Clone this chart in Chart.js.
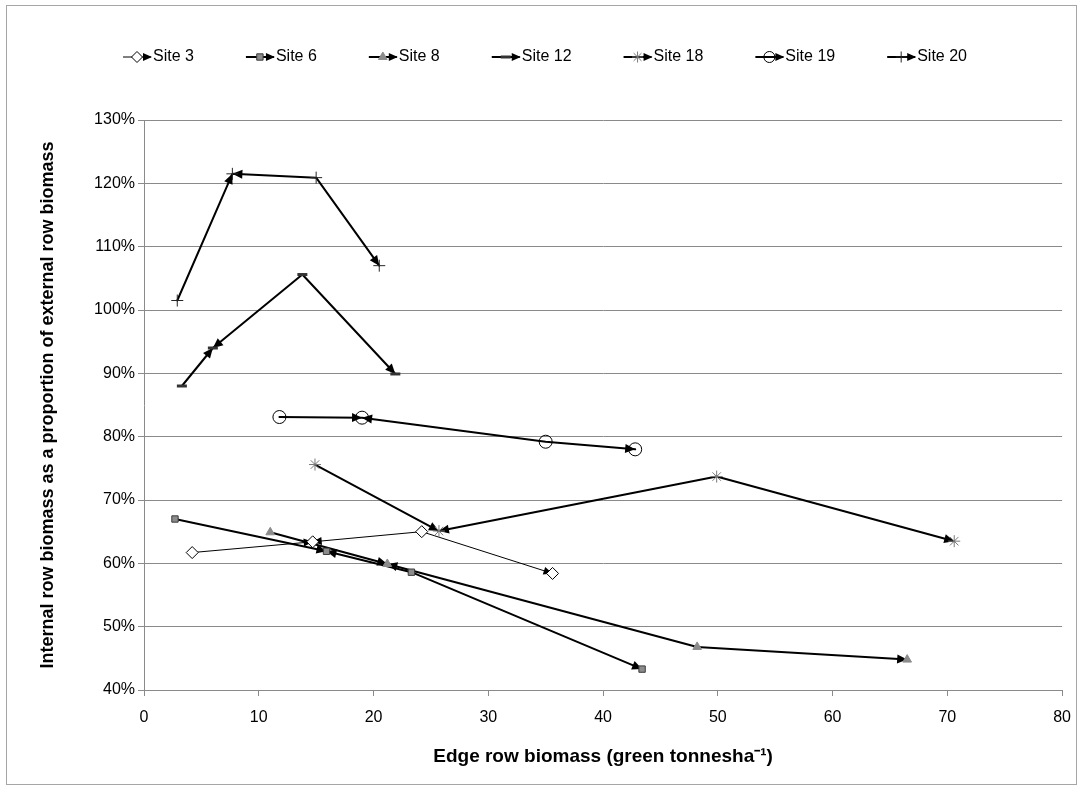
<!DOCTYPE html>
<html>
<head>
<meta charset="utf-8">
<script src="https://cdn.jsdelivr.net/npm/chart.js@4/dist/chart.umd.min.js"></script>
<style>
html, body { margin: 0; padding: 0; background: #fff; }
</style>
</head>
<body>
<canvas id="biomass_canvas" width="1083" height="791"></canvas>
<script>
// [edge row biomass, internal row biomass as % of external], in sampling order
const site3 = [[4.2, 61.7], [14.7, 63.4], [24.2, 65.0], [35.6, 58.4]];
const site6 = [[2.7, 67.0], [15.9, 61.9], [23.3, 58.6], [43.4, 43.3]];
const site8 = [[11.0, 64.9], [21.2, 59.9], [48.2, 46.8], [66.5, 44.8]];
const site12 = [[3.3, 88.0], [6.0, 94.0], [13.8, 105.6], [21.9, 89.9]];
const site18 = [[14.9, 75.6], [25.7, 65.1], [49.9, 73.7], [70.6, 63.5]];
const site19 = [[11.8, 83.1], [19.0, 83.0], [35.0, 79.2], [42.8, 78.0]];
const site20 = [[2.9, 101.5], [7.7, 121.5], [15.0, 120.9], [20.5, 107.0]];

// where each segment gets its arrowhead: 1 = at the later point, -1 = at the earlier one
const segment_arrows = [1, -1, 1];

const x_ticks = [0, 80, 10];
const y_ticks = [40, 130, 10];

const AXIS_GREY = '#8a8a8a';
const FONT = 'Liberation Sans';

function make_dataset(label, points, style) {
    return Object.assign({
        label: label,
        data: points.map(p => ({ x: p[0], y: p[1] })),
        showLine: false,
        lineColor: '#000000',
        lineWidthPx: 2,
        pointBorderWidth: 1,
        pointHoverRadius: 0
    }, style);
}

let datasets = [
    make_dataset('Site 3', site3, {
        pointStyle: 'rectRot', pointRadius: 6,
        pointBackgroundColor: '#ffffff', pointBorderColor: '#000000',
        lineWidthPx: 1
    }),
    make_dataset('Site 6', site6, {
        pointStyle: 'rect', pointRadius: 4.5,
        pointBackgroundColor: '#8c8c8c', pointBorderColor: '#3a3a3a'
    }),
    make_dataset('Site 8', site8, {
        pointStyle: 'triangle', pointRadius: 5,
        pointBackgroundColor: '#8c8c8c', pointBorderColor: '#8c8c8c'
    }),
    make_dataset('Site 12', site12, {
        pointStyle: 'line', pointRadius: 5,
        pointBackgroundColor: '#333333', pointBorderColor: '#333333', pointBorderWidth: 3
    }),
    make_dataset('Site 18', site18, {
        pointStyle: 'star', pointRadius: 6,
        pointBackgroundColor: '#7a7a7a', pointBorderColor: '#7a7a7a'
    }),
    make_dataset('Site 19', site19, {
        pointStyle: 'circle', pointRadius: 6.5,
        pointBackgroundColor: 'rgba(0,0,0,0)', pointBorderColor: '#000000'
    }),
    make_dataset('Site 20', site20, {
        pointStyle: 'cross', pointRadius: 6,
        pointBackgroundColor: '#262626', pointBorderColor: '#262626'
    })
];

function draw_arrow_head(ctx, fx, fy, tx, ty, len, half) {
    let ang = Math.atan2(ty - fy, tx - fx);
    let c = Math.cos(ang), s = Math.sin(ang);
    ctx.beginPath();
    ctx.moveTo(tx, ty);
    ctx.lineTo(tx - len * c + half * s, ty - len * s - half * c);
    ctx.lineTo(tx - len * c - half * s, ty - len * s + half * c);
    ctx.closePath();
    ctx.fill();
}

// connecting lines and arrowheads go under the markers
const arrow_lines = {
    id: 'arrow_lines',
    beforeDatasetsDraw(chart) {
        let ctx = chart.ctx;
        chart.data.datasets.forEach((ds, i) => {
            let pts = chart.getDatasetMeta(i).data;
            ctx.save();
            ctx.strokeStyle = ds.lineColor;
            ctx.fillStyle = ds.lineColor;
            ctx.lineWidth = ds.lineWidthPx;
            ctx.lineCap = 'round';
            ctx.lineJoin = 'round';
            ctx.beginPath();
            pts.forEach((p, k) => k === 0 ? ctx.moveTo(p.x, p.y) : ctx.lineTo(p.x, p.y));
            ctx.stroke();
            let len = ds.lineWidthPx > 1 ? 10 : 9;
            let half = ds.lineWidthPx > 1 ? 4.5 : 4;
            for (let k = 0; k < pts.length - 1; k++) {
                let a = pts[k], b = pts[k + 1];
                if (segment_arrows[k] === 1) draw_arrow_head(ctx, a.x, a.y, b.x, b.y, len, half);
                else if (segment_arrows[k] === -1) draw_arrow_head(ctx, b.x, b.y, a.x, a.y, len, half);
            }
            ctx.restore();
        });
    }
};

// legend row: short line, marker, arrowhead, then the site name
const arrow_legend = {
    id: 'arrow_legend',
    afterDraw(chart) {
        let ctx = chart.ctx;
        let x = 123, y = 57;
        ctx.save();
        ctx.font = '16px "' + FONT + '"';
        ctx.textBaseline = 'middle';
        chart.data.datasets.forEach(ds => {
            ctx.strokeStyle = '#000';
            ctx.fillStyle = '#000';
            ctx.lineWidth = ds.lineWidthPx;
            ctx.beginPath();
            ctx.moveTo(x, y);
            ctx.lineTo(x + 28, y);
            ctx.stroke();
            ctx.fillStyle = ds.pointBackgroundColor;
            ctx.strokeStyle = ds.pointBorderColor;
            ctx.lineWidth = ds.pointBorderWidth;
            Chart.helpers.drawPoint(ctx, {
                pointStyle: ds.pointStyle,
                radius: Math.min(ds.pointRadius, 5.5),
                borderWidth: ds.pointBorderWidth,
                rotation: 0
            }, x + 14, y);
            ctx.fillStyle = '#000';
            draw_arrow_head(ctx, x, y, x + 29, y, 9, 4);
            ctx.fillText(ds.label, x + 30, y);
            x += 30 + ctx.measureText(ds.label).width + 52;
        });
        ctx.restore();
    }
};

// thin frame round the whole chart
const chart_frame = {
    id: 'chart_frame',
    beforeDraw(chart) {
        let ctx = chart.ctx;
        ctx.save();
        ctx.fillStyle = '#ffffff';
        ctx.fillRect(0, 0, chart.width, chart.height);
        ctx.strokeStyle = '#a6a6a6';
        ctx.lineWidth = 1;
        ctx.strokeRect(6.5, 5.5, chart.width - 13, chart.height - 12);
        ctx.restore();
    }
};

let biomass_chart = new Chart(document.getElementById('biomass_canvas'), {
    type: 'scatter',
    data: { datasets: datasets },
    options: {
        responsive: false,
        devicePixelRatio: 1,
        animation: false,
        events: [],
        layout: { padding: { top: 120, right: 19, left: 0, bottom: 0 } },
        plugins: {
            legend: { display: false },
            tooltip: { enabled: false }
        },
        scales: {
            x: {
                type: 'linear',
                min: x_ticks[0],
                max: x_ticks[1],
                ticks: { stepSize: x_ticks[2], padding: 12, color: '#000', font: { family: FONT, size: 16 } },
                grid: { drawOnChartArea: false, tickLength: 6, color: AXIS_GREY },
                border: { color: AXIS_GREY },
                title: {
                    display: true,
                    text: 'Edge row biomass (green tonnesha\u207B\u00B9)',
                    color: '#000',
                    font: { family: FONT, size: 19, weight: 'bold' },
                    padding: { top: 0, bottom: 23 }
                },
                afterFit(scale) { scale.height = 101; }
            },
            y: {
                type: 'linear',
                min: y_ticks[0],
                max: y_ticks[1],
                ticks: {
                    stepSize: y_ticks[2], padding: 3, color: '#000',
                    font: { family: FONT, size: 16 },
                    callback: v => v + '%'
                },
                grid: { color: AXIS_GREY, tickLength: 6 },
                border: { color: AXIS_GREY },
                title: {
                    display: true,
                    text: 'Internal row biomass as a proportion of external row biomass',
                    color: '#000',
                    font: { family: FONT, size: 18, weight: 'bold' },
                    padding: { top: 37, bottom: 0 }
                },
                afterFit(scale) { scale.width = 144; }
            }
        }
    },
    plugins: [chart_frame, arrow_lines, arrow_legend]
});
</script>
</body>
</html>
